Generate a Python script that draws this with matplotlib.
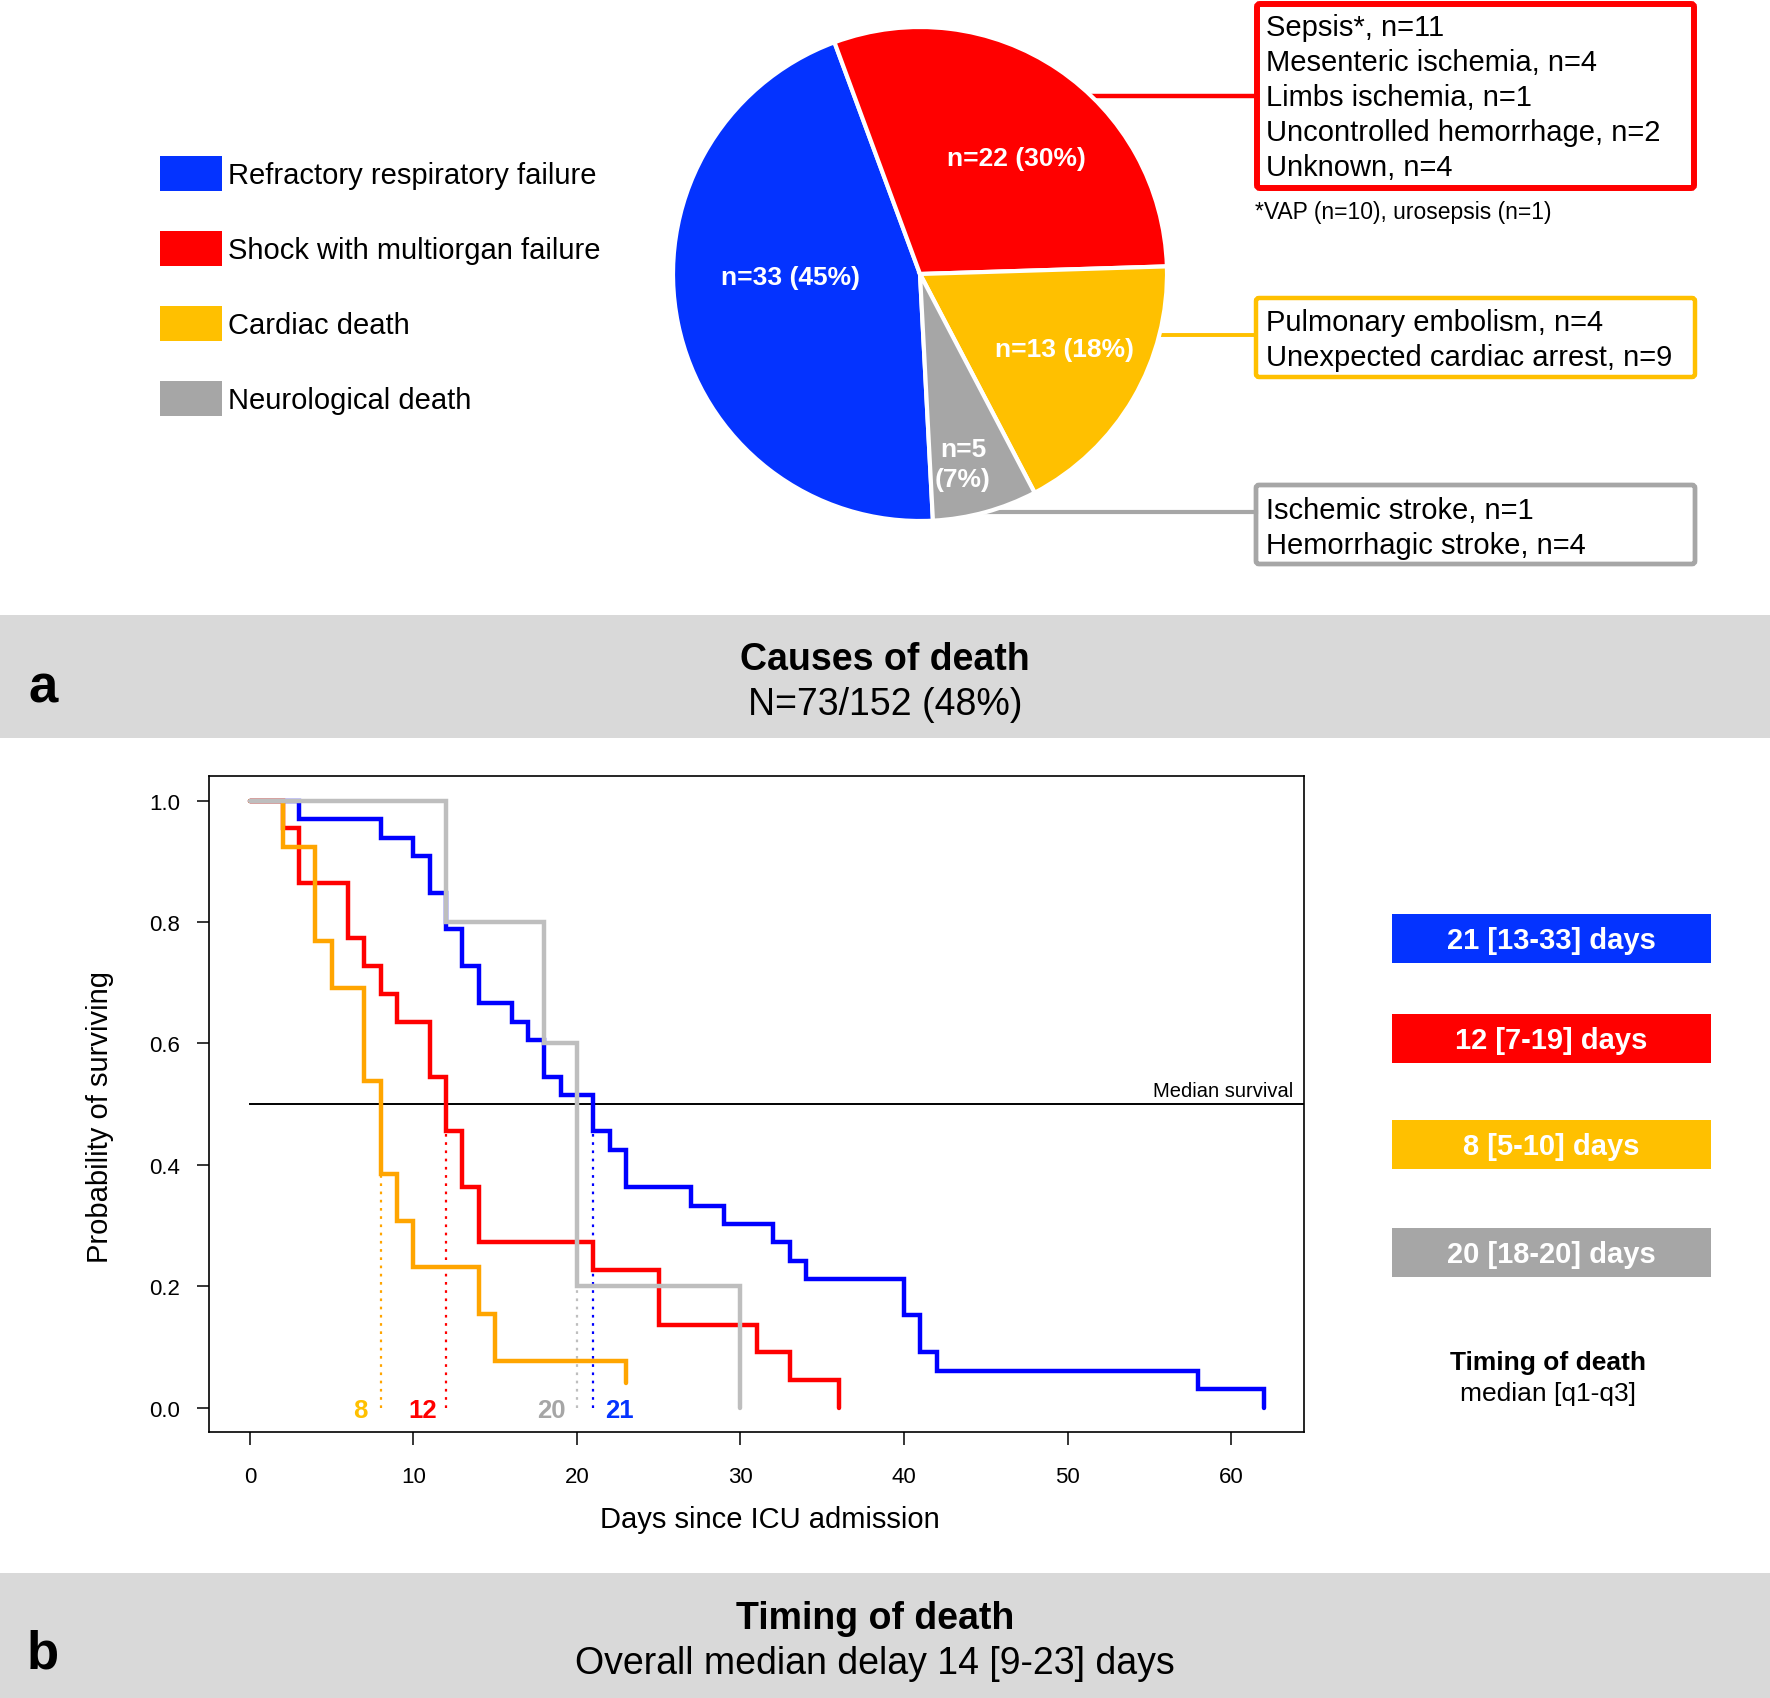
import matplotlib
matplotlib.use('Agg')
import matplotlib.pyplot as plt
from matplotlib.patches import Rectangle, FancyBboxPatch

plt.rcParams['font.family'] = ['Liberation Sans', 'DejaVu Sans']

W, H = 1770, 1699

# causes of death (pie)
causes = ['Refractory respiratory failure', 'Shock with multiorgan failure',
          'Cardiac death', 'Neurological death']
deaths = [33, 22, 13, 5]
pct = [45, 30, 18, 7]
pie_colors = ['#0433FF', '#FF0000', '#FFC000', '#A6A6A6']

shock_details = ['Sepsis*, n=11', 'Mesenteric ischemia, n=4', 'Limbs ischemia, n=1',
                 'Uncontrolled hemorrhage, n=2', 'Unknown, n=4']
cardiac_details = ['Pulmonary embolism, n=4', 'Unexpected cardiac arrest, n=9']
neuro_details = ['Ischemic stroke, n=1', 'Hemorrhagic stroke, n=4']
footnote = '*VAP (n=10), urosepsis (n=1)'

# survival curves (time in days, probability of surviving)
resp_t = [0, 3, 8, 10, 11, 12, 13, 14, 16, 17, 18, 19, 21, 22, 23, 27, 29, 32, 33, 34, 40, 41, 42, 58, 62]
resp_s = [1.0, .970, .939, .909, .848, .788, .727, .667, .636, .606, .545, .515, .455, .424,
          .364, .333, .303, .273, .242, .212, .152, .091, .061, .030, 0.0]
shock_t = [0, 2, 3, 6, 7, 8, 9, 11, 12, 13, 14, 21, 25, 31, 33, 36]
shock_s = [1.0, .955, .864, .773, .727, .682, .636, .545, .455, .364, .273, .227, .136, .091, .045, 0.0]
card_t = [0, 2, 4, 5, 7, 8, 9, 10, 14, 15, 23]
card_s = [1.0, .923, .769, .692, .538, .385, .308, .231, .154, .077, .040]
neuro_t = [0, 12, 18, 20, 30]
neuro_s = [1.0, .8, .6, .2, 0.0]

medians = [21, 12, 8, 20]
timing_labels = ['21 [13-33] days', '12 [7-19] days', '8 [5-10] days', '20 [18-20] days']
curve_colors = ['#0000FF', '#FF0000', '#FFA500', '#BEBEBE']

fig = plt.figure(figsize=(W / 100, H / 100), dpi=100)

# background layer in pixel coordinates
bg = fig.add_axes([0, 0, 1, 1])
bg.set_xlim(0, W)
bg.set_ylim(H, 0)
bg.axis('off')

# legend of pie
for i, (lab, col) in enumerate(zip(causes, pie_colors)):
    y0 = 157 + i * 75
    bg.add_patch(Rectangle((160, y0), 62, 35, color=col, lw=0))
    bg.text(228, y0 + 19, lab, fontsize=21, va='center', ha='left')

# connector lines (behind pie)
bg.plot([920, 1256], [97, 97], color='#FF0000', lw=3.2)
bg.plot([920, 1256], [336, 336], color='#FFC000', lw=2.8)
bg.plot([920, 1256], [513, 513], color='#A6A6A6', lw=3.0)

# detail boxes
def detail_box(x0, y0, x1, y1, col, lw, lines, ys):
    bg.add_patch(FancyBboxPatch((x0, y0), x1 - x0, y1 - y0,
                                boxstyle='round,pad=0,rounding_size=3',
                                fc='white', ec=col, lw=lw))
    for txt, yy in zip(lines, ys):
        bg.text(1266, yy, txt, fontsize=21, va='center', ha='left')

detail_box(1257, 5, 1694, 189, '#FF0000', 4.3, shock_details, [28, 63, 98, 133, 168])
detail_box(1256, 299, 1695, 378, '#FFC000', 3.2, cardiac_details, [323, 358])
detail_box(1256, 486, 1695, 565, '#A6A6A6', 3.4, neuro_details, [511, 546])
bg.text(1255, 213, footnote, fontsize=16.5, va='center', ha='left')

# banners
bg.add_patch(Rectangle((0, 616), W, 123, color='#D9D9D9', lw=0))
bg.text(885, 660, 'Causes of death', fontsize=27, fontweight='bold', ha='center', va='center')
bg.text(885, 705, 'N=73/152 (48%)', fontsize=27, ha='center', va='center')
bg.text(43, 689, 'a', fontsize=38, fontweight='bold', ha='center', va='center')

bg.add_patch(Rectangle((0, 1574), W, 125, color='#D9D9D9', lw=0))
bg.text(875, 1619, 'Timing of death', fontsize=27, fontweight='bold', ha='center', va='center')
bg.text(875, 1664, 'Overall median delay 14 [9-23] days', fontsize=27, ha='center', va='center')
bg.text(43, 1655, 'b', fontsize=38, fontweight='bold', ha='center', va='center')

# timing legend
for i, (lab, col) in enumerate(zip(timing_labels, pie_colors)):
    y0 = [915, 1015, 1121, 1229][i]
    bg.add_patch(Rectangle((1392, y0), 319, 49, color=col, lw=0))
    bg.text(1551, y0 + 26, lab, fontsize=21, fontweight='bold', color='white',
            ha='center', va='center')
bg.text(1548, 1363, 'Timing of death', fontsize=19, fontweight='bold', ha='center', va='center')
bg.text(1548, 1394, 'median [q1-q3]', fontsize=19, ha='center', va='center')

# axis titles of the survival plot
bg.text(770, 1520, 'Days since ICU admission', fontsize=21, ha='center', va='center')
bg.text(100, 1117, 'Probability of surviving', fontsize=21, ha='center', va='center',
        rotation=90)

# pie
cx, cy, r = 920, 275, 247
pax = fig.add_axes([(cx - r) / W, 1 - (cy + r) / H, 2 * r / W, 2 * r / H])
pax.pie(deaths, colors=pie_colors, startangle=-87, counterclock=False,
        wedgeprops=dict(edgecolor='white', linewidth=3))
pax.set_xlim(-1, 1)
pax.set_ylim(-1, 1)
pie_pos = [(-0.526, -0.012), (0.389, 0.47), (0.585, -0.304), (0.174, -0.77)]
for i, (n, p) in enumerate(zip(deaths, pct)):
    txt = 'n=%d (%d%%)' % (n, p) if n > 5 else 'n=%d\n(%d%%)' % (n, p)
    pax.text(pie_pos[i][0], pie_pos[i][1], txt, color='white', fontsize=19,
             fontweight='bold', ha='center', va='center', linespacing=1.3)

# survival plot
ax = fig.add_axes([209.3 / W, 1 - 1433.3 / H, 1095 / W, 656 / H])
xlo, xhi = -2.48, 64.48
ax.set_xlim(xlo, xhi)
ax.set_ylim(-0.0405, 1.04)

ax.axhline(0.5, xmin=(0 - xlo) / (xhi - xlo), xmax=1, color='black', lw=1.4, zorder=1)
ax.text(63.8, 0.522, 'Median survival', fontsize=14.5, ha='right', va='center')

curves = [(resp_t, resp_s), (shock_t, shock_s), (card_t, card_s), (neuro_t, neuro_s)]
for (t, s), col in zip(curves, curve_colors):
    ax.step(t, s, where='post', color=col, lw=3.2, solid_capstyle='round',
            solid_joinstyle='miter', zorder=3)

label_dx = [0.7, -0.55, -0.8, -0.7]
for (t, s), m, col, lcol, dx in zip(curves, medians, curve_colors, pie_colors, label_dx):
    s_at = s[t.index(m)]
    ax.vlines(m, 0, s_at, colors=col, linestyles=(0, (1.2, 2.5)), lw=1.6, zorder=2)
    ax.text(m + dx, -0.004, str(m), color=lcol, fontsize=18.5, fontweight='bold',
            ha='left' if dx > 0 else 'right', va='center')

ax.set_xticks(range(0, 61, 10))
ax.set_yticks([0.0, 0.2, 0.4, 0.6, 0.8, 1.0])
ax.set_yticklabels(['0.0', '0.2', '0.4', '0.6', '0.8', '1.0'])
ax.tick_params(axis='x', direction='out', length=9, width=1.1, labelsize=16, pad=15)
ax.tick_params(axis='y', direction='out', length=9, width=1.1, labelsize=16, pad=12)
for sp in ax.spines.values():
    sp.set_linewidth(1.2)

fig.savefig('out.png', dpi=100)
